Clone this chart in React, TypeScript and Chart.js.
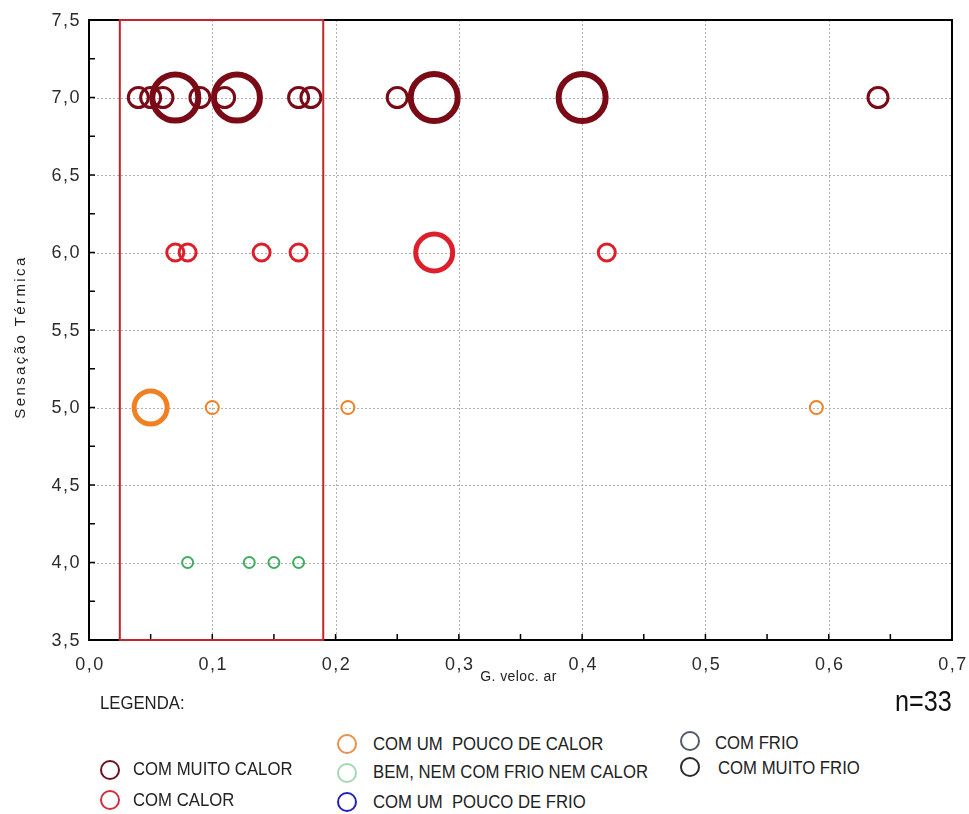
import React, { useEffect, useLayoutEffect, useRef } from 'react';
import { Chart, registerables } from 'chart.js';
Chart.register(...registerables);

// ---- data ----
const xMin = 0.0;
const xMax = 0.7;
const yMin = 3.5;
const yMax = 7.5;
const xTickValues = [0, 0.1, 0.2, 0.3, 0.4, 0.5, 0.6, 0.7];
const yTickValues = [3.5, 4.0, 4.5, 5.0, 5.5, 6.0, 6.5, 7.0, 7.5];

const muitoCalorY = 7.0;
const muitoCalorX = [0.04, 0.05, 0.06, 0.07, 0.09, 0.11, 0.12, 0.17, 0.18, 0.25, 0.28, 0.4, 0.64];
const muitoCalorSize = [10, 10, 10, 23, 10, 10, 23, 10, 10, 10, 23.5, 23.5, 10];

const calorY = 6.0;
const calorX = [0.07, 0.08, 0.14, 0.17, 0.28, 0.42];
const calorSize = [8.5, 8.5, 8.5, 8.5, 18.5, 8.5];

const poucoCalorY = 5.0;
const poucoCalorX = [0.05, 0.1, 0.21, 0.59];
const poucoCalorSize = [16.5, 6.5, 6.5, 6.5];

const bemY = 4.0;
const bemX = [0.08, 0.13, 0.15, 0.17];
const bemSize = [5.5, 5.5, 5.5, 5.5];

const boxXMin = 0.025;
const boxXMax = 0.19;

const xTitle = 'G. veloc. ar';
const yTitle = 'Sensação Térmica';
const nLabel = 'n=33';

const legendLabels = [
  'COM MUITO CALOR',
  'COM CALOR',
  'COM UM  POUCO DE CALOR',
  'BEM, NEM COM FRIO NEM CALOR',
  'COM UM  POUCO DE FRIO',
  'COM FRIO',
  'COM MUITO FRIO',
];
const legendColors = ['#6e1020', '#d0303c', '#e8904c', '#a4d8b4', '#2222bb', '#505a68', '#2a2a2a'];
// [iconCenterX, iconCenterY, textLeft, textCenterY] in page coordinates
const legendPos = [
  [110, 770, 133, 769],
  [110, 800, 133, 800],
  [347, 744, 373, 744],
  [347, 773, 373, 772],
  [347, 802, 373, 802],
  [690, 741, 715, 743],
  [690, 767, 718, 768],
];

const fmt = (v: number) => v.toFixed(1).replace('.', ',');

const mk = (xs: number[], y: number, rs: number[]) => xs.map((x, i) => ({ x, y, r: rs[i] }));

const framePlugin = {
  id: 'frame',
  beforeDatasetsDraw(chart: any) {
    const { ctx, chartArea: a, scales } = chart;
    const x = scales.x;
    const y = scales.y;
    ctx.save();
    ctx.strokeStyle = '#b2b2b2';
    ctx.lineWidth = 1;
    ctx.setLineDash([2, 2]);
    xTickValues.forEach((v) => {
      const px = Math.round(x.getPixelForValue(v)) + 0.5;
      if (px > a.left + 3 && px < a.right - 3) {
        ctx.beginPath();
        ctx.moveTo(px, a.top);
        ctx.lineTo(px, a.bottom);
        ctx.stroke();
      }
    });
    yTickValues.forEach((v) => {
      const py = Math.round(y.getPixelForValue(v)) + 0.5;
      if (py > a.top + 3 && py < a.bottom - 3) {
        ctx.beginPath();
        ctx.moveTo(a.left, py);
        ctx.lineTo(a.right, py);
        ctx.stroke();
      }
    });
    ctx.restore();
  },
  afterDatasetsDraw(chart: any) {
    const { ctx, chartArea: a, scales } = chart;
    const x = scales.x;
    const y = scales.y;
    ctx.save();
    // tick marks inward
    ctx.strokeStyle = '#000';
    ctx.lineWidth = 1.5;
    for (let v = xMin; v <= xMax + 1e-9; v += 0.05) {
      const px = x.getPixelForValue(v);
      ctx.beginPath();
      ctx.moveTo(px, a.bottom);
      ctx.lineTo(px, a.bottom - 6);
      ctx.stroke();
    }
    for (let v = yMin; v <= yMax + 1e-9; v += 0.25) {
      const py = y.getPixelForValue(v);
      ctx.beginPath();
      ctx.moveTo(a.left, py);
      ctx.lineTo(a.left + 6, py);
      ctx.stroke();
    }
    // frame
    ctx.lineWidth = 2;
    ctx.strokeRect(a.left, a.top, a.right - a.left, a.bottom - a.top);
    // red highlight box
    ctx.strokeStyle = '#c0262c';
    ctx.lineWidth = 2;
    const bx0 = x.getPixelForValue(boxXMin);
    const bx1 = x.getPixelForValue(boxXMax);
    ctx.strokeRect(bx0, y.getPixelForValue(yMax), bx1 - bx0, y.getPixelForValue(yMin) - y.getPixelForValue(yMax));
    // tick labels
    ctx.fillStyle = '#2b2b2b';
    ctx.font = '18px "Liberation Sans", Arial, sans-serif';
    (ctx as any).letterSpacing = '1.5px';
    ctx.textBaseline = 'middle';
    ctx.textAlign = 'center';
    xTickValues.forEach((v) => {
      ctx.fillText(fmt(v), x.getPixelForValue(v) + 1, a.bottom + 25);
    });
    ctx.textAlign = 'right';
    yTickValues.forEach((v) => {
      ctx.fillText(fmt(v), a.left - 8, y.getPixelForValue(v) + 1);
    });
    // axis titles
    ctx.fillStyle = '#222';
    ctx.font = '14px "Liberation Sans", Arial, sans-serif';
    (ctx as any).letterSpacing = '0.4px';
    ctx.textAlign = 'center';
    ctx.textBaseline = 'middle';
    ctx.fillText(xTitle, (a.left + a.right) / 2 - 2, a.bottom + 37);
    ctx.translate(a.left - 68, (a.top + a.bottom) / 2 + 7);
    ctx.rotate(-Math.PI / 2);
    ctx.font = '15px "Liberation Sans", Arial, sans-serif';
    (ctx as any).letterSpacing = '2.4px';
    ctx.fillText(yTitle, 0, 0);
    ctx.restore();
  },
};

export default function App() {
  const ref = useRef<HTMLCanvasElement>(null);
  useLayoutEffect(() => {
    document.body.style.margin = '0';
    document.documentElement.style.overflow = 'hidden';
  }, []);
  useEffect(() => {
    const canvas = ref.current!;
    const bw = (big: number, small: number) => (c: any) => (c.raw && c.raw.r > 14 ? big : small);
    const chart = new Chart(canvas, {
      type: 'bubble',
      data: {
        datasets: [
          {
            label: legendLabels[0],
            data: mk(muitoCalorX, muitoCalorY, muitoCalorSize),
            borderColor: '#7a0a16',
            backgroundColor: 'rgba(0,0,0,0)',
            borderWidth: bw(6, 3),
          },
          {
            label: legendLabels[1],
            data: mk(calorX, calorY, calorSize),
            borderColor: '#de1f2b',
            backgroundColor: 'rgba(0,0,0,0)',
            borderWidth: bw(5, 3),
          },
          {
            label: legendLabels[2],
            data: mk(poucoCalorX, poucoCalorY, poucoCalorSize),
            borderColor: '#f08022',
            backgroundColor: 'rgba(0,0,0,0)',
            borderWidth: bw(5, 2),
          },
          {
            label: legendLabels[3],
            data: mk(bemX, bemY, bemSize),
            borderColor: '#3fae5e',
            backgroundColor: 'rgba(0,0,0,0)',
            borderWidth: 2,
          },
        ],
      },
      options: {
        animation: false,
        responsive: false,
        events: [],
        layout: { autoPadding: false, padding: { left: 89, right: 17, top: 20, bottom: 60 } },
        plugins: { legend: { display: false }, tooltip: { enabled: false } },
        scales: {
          x: { type: 'linear', min: xMin, max: xMax, display: false },
          y: { type: 'linear', min: yMin, max: yMax, display: false },
        },
      } as any,
      plugins: [framePlugin],
    });
    return () => chart.destroy();
  }, []);

  const legendFont = '"Liberation Sans", Arial, sans-serif';
  const squeeze = 'scaleX(0.88)';
  return (
    <div style={{ position: 'relative', width: 969, height: 814, overflow: 'hidden' }}>
      <canvas ref={ref} width={969} height={700} style={{ display: 'block', width: 969, height: 700 }} />
      <div
        style={{
          position: 'absolute',
          left: 100,
          top: 703 - 12,
          lineHeight: '24px',
          fontFamily: legendFont,
          fontSize: 19,
          color: '#222',
          whiteSpace: 'nowrap',
          transform: squeeze,
          transformOrigin: 'left center',
        }}
      >
        LEGENDA:
      </div>
      <div
        style={{
          position: 'absolute',
          left: 895,
          top: 701 - 18,
          lineHeight: '36px',
          fontFamily: legendFont,
          fontSize: 30,
          color: '#111',
          whiteSpace: 'nowrap',
          transform: 'scaleX(0.84)',
          transformOrigin: 'left center',
        }}
      >
        {nLabel}
      </div>
      {legendLabels.map((lab, i) => {
        const [ix, iy, tx, ty] = legendPos[i];
        return (
          <React.Fragment key={lab}>
            <div
              style={{
                position: 'absolute',
                left: ix - 10,
                top: iy - 10,
                width: 20,
                height: 20,
                boxSizing: 'border-box',
                border: `2.5px solid ${legendColors[i]}`,
                borderRadius: '50%',
              }}
            />
            <div
              style={{
                position: 'absolute',
                left: tx,
                top: ty - 12,
                lineHeight: '24px',
                fontFamily: legendFont,
                fontSize: 19,
                color: '#222',
                whiteSpace: 'pre',
                transform: squeeze,
                transformOrigin: 'left center',
              }}
            >
              {lab}
            </div>
          </React.Fragment>
        );
      })}
    </div>
  );
}
